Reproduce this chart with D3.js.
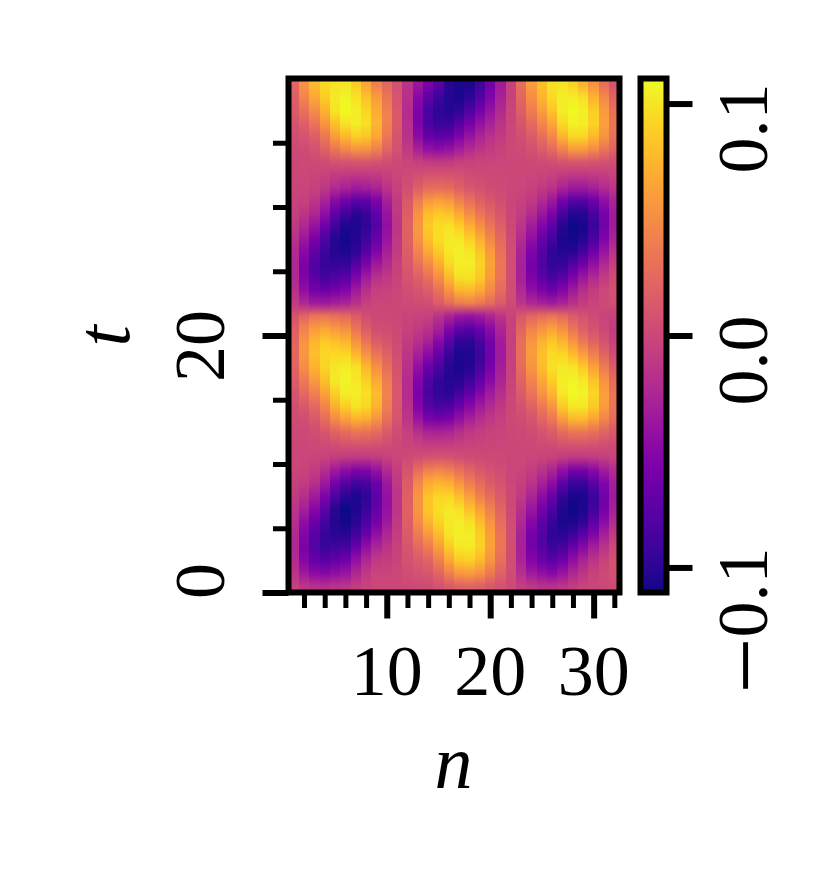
<!DOCTYPE html>
<html><head><meta charset="utf-8">
<style>html,body{margin:0;padding:0;background:#fff}svg{display:block}text{font-family:"Liberation Serif",serif;fill:#000}</style>
<script src="https://cdn.jsdelivr.net/npm/d3@7/dist/d3.min.js"></script></head>
<body><svg id="c" width="834" height="881"></svg>
<script>
const nValues=[1,2,3,4,5,6,7,8,9,10,11,12,13,14,15,16,17,18,19,20,21,22,23,24,25,26,27,28,29,30,31,32];
const xMajor=[10,20,30];
const xMinor=[2,4,6,8,12,14,16,18,22,24,26,28,32];
const yMajor=[0,20];
const yMinor=[5,10,15,25,30,35];
const cbTicks=[-0.1,0,0.1];
const cbLabels=["0.1","0.0","0.1"];
// field values in thousandths, first row is the bottom of the map (t = 0)
const field=[
[-5,-13,-17,-18,-15,-13,-8,-3,0,0,0,1,2,3,7,14,20,21,19,13,7,2,-7,-12,-16,-17,-13,-8,-3,-1,1,3],
[-15,-35,-47,-51,-45,-39,-24,-11,-2,-2,0,4,7,11,23,40,56,59,52,37,20,4,-18,-35,-44,-50,-40,-24,-13,-4,2,7],
[-21,-51,-69,-77,-70,-63,-43,-24,-10,-7,-2,7,14,22,40,65,85,89,77,55,30,6,-27,-52,-66,-75,-64,-44,-27,-14,-3,7],
[-24,-57,-79,-91,-89,-85,-66,-43,-25,-15,-4,11,25,38,59,85,102,102,90,63,35,6,-30,-60,-78,-92,-85,-67,-49,-31,-14,1],
[-23,-54,-78,-94,-100,-101,-88,-66,-43,-25,-7,15,38,57,77,100,106,104,89,62,34,5,-29,-59,-80,-98,-100,-91,-74,-53,-30,-10],
[-19,-45,-66,-87,-103,-108,-100,-82,-60,-35,-10,18,49,74,91,103,105,98,78,54,29,4,-24,-51,-74,-94,-105,-105,-98,-74,-47,-21],
[-14,-31,-50,-72,-100,-110,-104,-92,-70,-42,-13,20,56,84,97,102,97,81,61,41,22,2,-18,-39,-61,-83,-104,-110,-106,-89,-59,-31],
[-9,-19,-33,-55,-81,-99,-105,-97,-74,-43,-13,19,56,83,92,92,78,61,42,28,15,1,-11,-26,-46,-66,-95,-107,-105,-91,-62,-35],
[-5,-9,-18,-36,-60,-77,-89,-84,-66,-36,-11,16,47,69,74,71,56,40,26,16,9,0,-6,-15,-30,-46,-74,-93,-93,-77,-54,-32],
[-2,-3,-8,-20,-35,-46,-55,-53,-42,-23,-7,10,29,43,46,42,32,21,13,8,4,-1,-2,-7,-16,-26,-44,-58,-58,-49,-34,-21],
[0,-1,-2,-4,-7,-10,-11,-11,-9,-5,-1,2,6,9,10,9,6,4,2,1,1,0,0,-1,-3,-5,-9,-12,-12,-10,-7,-4],
[0,0,1,3,6,8,10,9,7,4,1,-2,-5,-8,-8,-7,-5,-3,-2,-1,-1,0,0,1,3,4,8,10,10,8,6,3],
[1,1,5,12,21,28,34,32,26,14,4,-6,-18,-27,-28,-26,-19,-12,-7,-4,-2,0,1,4,10,16,27,35,36,30,21,13],
[3,5,13,28,48,62,73,70,55,30,9,-13,-39,-57,-61,-57,-43,-30,-19,-12,-6,1,4,11,23,36,59,76,77,64,45,27],
[6,13,25,45,71,89,100,94,73,40,12,-18,-53,-78,-85,-82,-67,-50,-33,-22,-12,0,8,20,38,56,86,103,102,86,59,34],
[11,25,41,64,89,105,104,97,78,43,13,-20,-57,-85,-96,-99,-88,-71,-52,-34,-19,-1,14,33,54,75,102,110,107,92,62,34],
[17,38,58,80,103,108,102,90,68,39,12,-20,-54,-80,-96,-103,-102,-90,-70,-48,-26,-3,21,45,68,89,105,108,103,83,54,27],
[22,50,73,91,101,104,98,77,53,30,9,-17,-44,-66,-85,-102,-106,-102,-85,-59,-32,-5,27,55,78,97,103,101,87,64,39,16],
[24,57,80,94,95,94,77,55,34,20,6,-13,-31,-48,-69,-93,-105,-104,-91,-64,-35,-6,30,60,81,96,94,79,62,42,22,4],
[23,55,76,86,81,75,55,33,17,11,3,-9,-19,-30,-50,-76,-97,-99,-85,-60,-33,-6,29,57,74,85,75,56,38,22,8,-4],
[18,44,60,65,58,52,34,17,6,4,1,-5,-10,-16,-31,-53,-72,-76,-66,-47,-26,-5,23,44,56,64,52,34,19,8,0,-7],
[10,24,33,35,31,26,16,6,1,1,0,-2,-4,-6,-15,-27,-38,-41,-36,-26,-14,-3,13,24,31,34,27,16,8,2,-2,-5],
[-10,-24,-33,-35,-31,-26,-16,-6,-1,-1,0,2,4,6,15,27,38,41,36,26,14,3,-13,-24,-30,-34,-27,-16,-8,-2,2,5],
[-18,-44,-60,-65,-58,-52,-34,-17,-6,-4,-1,5,10,16,31,53,72,76,66,47,26,5,-23,-44,-56,-64,-52,-34,-19,-8,0,7],
[-23,-55,-76,-86,-81,-75,-55,-33,-17,-11,-3,9,19,30,50,76,97,99,85,60,33,6,-29,-57,-74,-85,-75,-56,-38,-22,-8,4],
[-24,-57,-80,-94,-95,-94,-77,-55,-34,-20,-6,13,31,48,69,93,105,104,91,64,35,6,-30,-60,-81,-96,-94,-79,-62,-42,-22,-4],
[-22,-50,-73,-91,-101,-104,-98,-77,-53,-30,-9,17,44,66,85,102,106,102,85,59,32,5,-27,-55,-78,-97,-103,-101,-87,-64,-39,-16],
[-17,-38,-58,-80,-103,-108,-102,-90,-68,-39,-12,20,54,80,96,103,102,90,70,48,26,3,-21,-45,-68,-89,-105,-108,-103,-83,-54,-27],
[-11,-25,-41,-64,-89,-105,-104,-97,-78,-43,-13,20,57,85,96,99,88,71,52,34,19,1,-14,-33,-54,-75,-102,-110,-107,-92,-62,-34],
[-6,-13,-25,-45,-71,-89,-100,-94,-73,-40,-12,18,53,78,85,82,67,50,33,22,12,0,-8,-20,-38,-56,-86,-103,-102,-86,-59,-34],
[-3,-5,-13,-28,-48,-62,-73,-70,-55,-30,-9,13,39,57,61,57,43,30,19,12,6,-1,-4,-11,-23,-36,-59,-76,-77,-64,-45,-27],
[-1,-1,-5,-12,-21,-28,-34,-32,-26,-14,-4,6,18,27,28,26,19,12,7,4,2,0,-1,-4,-10,-16,-27,-35,-36,-30,-21,-13],
[0,0,-2,-4,-8,-10,-12,-11,-9,-5,-1,2,6,9,10,9,7,4,2,1,1,0,0,-1,-3,-5,-9,-12,-12,-10,-7,-4],
[0,1,2,4,7,10,11,11,9,5,1,-2,-6,-9,-10,-9,-6,-4,-2,-1,-1,0,0,1,3,5,9,12,12,10,7,4],
[2,3,8,20,35,46,55,53,42,23,7,-10,-29,-43,-46,-42,-32,-21,-13,-8,-4,1,2,7,16,26,44,58,58,49,34,21],
[5,9,18,36,60,77,89,84,66,36,11,-16,-47,-69,-74,-71,-56,-40,-26,-16,-9,0,6,15,30,46,74,93,93,77,54,32],
[9,19,33,55,81,99,105,97,74,43,13,-19,-56,-83,-92,-92,-78,-61,-42,-28,-15,-1,11,26,46,66,95,107,105,91,62,35],
[14,31,50,72,100,110,104,92,70,42,13,-20,-56,-84,-97,-102,-97,-81,-61,-41,-22,-2,18,39,61,83,104,110,106,89,59,31],
[19,45,66,87,103,108,100,82,60,35,10,-18,-49,-74,-91,-103,-105,-98,-78,-54,-29,-4,24,51,74,94,105,105,98,74,47,21],
[23,54,78,94,100,101,88,66,43,25,7,-15,-38,-57,-77,-100,-106,-104,-89,-62,-34,-5,29,59,80,98,100,91,74,53,30,10]
];

const L=288.5,R=619.5,T=78.5,B=592.5,CL=640.5,CR=666.5,SW=6;
const vMax=0.1108;
const x=d3.scaleLinear().domain([0.5,32.5]).range([L,R]);
const y=d3.scaleLinear().domain([0,40]).range([B,T]);
const cy=d3.scaleLinear().domain([-vMax,vMax]).range([B,T]);
const color=d3.scaleSequential(d3.interpolatePlasma).domain([-vMax,vMax]).clamp(true);
const svg=d3.select("#c");
const defs=svg.append("defs");

// one vertical gradient per column, with a stop at the centre of every row
nValues.forEach((n,c)=>{
  const g=defs.append("linearGradient").attr("id","col"+n)
    .attr("gradientUnits","userSpaceOnUse").attr("x1",0).attr("x2",0).attr("y1",y(0)).attr("y2",y(40));
  g.selectAll("stop").data(field).join("stop")
    .attr("offset",(d,i)=>(i+0.5)/field.length)
    .attr("stop-color",d=>color(d[c]/1000));
});
const cells=field.flatMap((row,t)=>row.map((v,c)=>({t,n:nValues[c],v:v/1000})));
svg.append("g").attr("shape-rendering","crispEdges").selectAll("rect").data(cells).join("rect")
  .attr("x",d=>x(d.n-0.5)).attr("width",d=>x(d.n+0.5)-x(d.n-0.5))
  .attr("y",d=>y(d.t+1)).attr("height",d=>y(d.t)-y(d.t+1)+0.5)
  .attr("fill",d=>"url(#col"+d.n+")");
svg.append("rect").attr("x",L).attr("y",T).attr("width",R-L).attr("height",B-T)
  .attr("fill","none").attr("stroke","#000").attr("stroke-width",SW);

// colour bar
const steps=d3.range(0,256).map(i=>-vMax+(i+0.5)*2*vMax/256);
const h=(B-T)/256;
svg.append("g").attr("shape-rendering","crispEdges").selectAll("rect").data(steps).join("rect")
  .attr("x",CL).attr("width",CR-CL).attr("y",d=>cy(d)-h/2-0.3).attr("height",h+0.6).attr("fill",d=>color(d));
svg.append("rect").attr("x",CL).attr("y",T).attr("width",CR-CL).attr("height",B-T)
  .attr("fill","none").attr("stroke","#000").attr("stroke-width",SW);

// ticks through d3 axes
function styleAxis(g,w){g.select(".domain").remove();g.selectAll("line").attr("stroke","#000").attr("stroke-width",w);g.selectAll("text").remove();}
svg.append("g").attr("transform",`translate(0,${B})`).call(d3.axisBottom(x).tickValues(xMajor).tickSize(26)).call(g=>styleAxis(g,6));
svg.append("g").attr("transform",`translate(0,${B})`).call(d3.axisBottom(x).tickValues(xMinor).tickSize(15.5)).call(g=>styleAxis(g,5));
svg.append("g").attr("transform",`translate(${L},0)`).call(d3.axisLeft(y).tickValues(yMajor).tickSize(26)).call(g=>styleAxis(g,6));
svg.append("g").attr("transform",`translate(${L},0)`).call(d3.axisLeft(y).tickValues(yMinor).tickSize(15.5)).call(g=>styleAxis(g,5));
svg.append("g").attr("transform",`translate(${CR},0)`).call(d3.axisRight(cy).tickValues(cbTicks).tickSize(26)).call(g=>styleAxis(g,6));

// labels
const FS=72, LFS=76;
svg.selectAll(".xl").data(xMajor).join("text").attr("class","xl")
  .attr("x",d=>x(d)).attr("y",695).attr("text-anchor","middle").attr("font-size",FS).text(d=>d);
function rot(px,py,txt,anchor,fs,italic){
  return svg.append("text").attr("transform",`translate(${px},${py}) rotate(-90)`)
    .attr("text-anchor",anchor).attr("font-size",fs).attr("font-style",italic?"italic":null).text(txt);
}
rot(224,y(20)+10.5,"20","middle",FS);
rot(224,y(0)-11.5,"0","middle",FS);
cbTicks.forEach((v,i)=>{
  const t=rot(767,cy(v)-20,v<0?null:cbLabels[i],"end",FS);
  if(v<0){
    t.append("tspan").attr("font-size",100).attr("dy",12).text("\u2212");
    t.append("tspan").attr("dy",-12).text(cbLabels[i]);
  }
});
svg.append("text").attr("x",453.5).attr("y",788).attr("text-anchor","middle").attr("font-size",LFS).attr("font-style","italic").text("n");
rot(129,336,"t","middle",LFS,true);
</script></body></html>
